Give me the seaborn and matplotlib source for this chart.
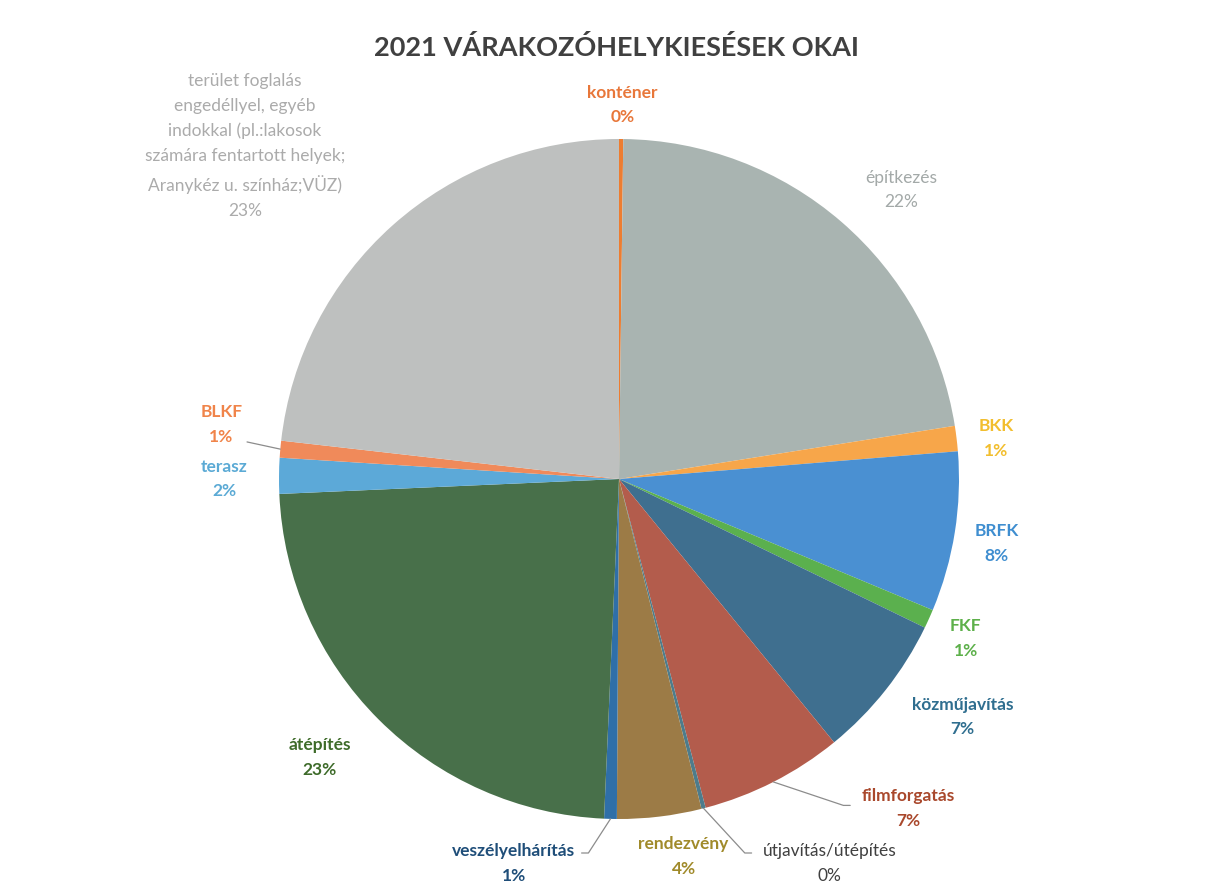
import matplotlib
matplotlib.use("Agg")
import matplotlib.pyplot as plt
import seaborn as sns
import numpy as np

categories = ["konténer", "építkezés", "BKK", "BRFK", "FKF", "közműjavítás",
              "filmforgatás", "útjavítás/útépítés", "rendezvény", "veszélyelhárítás",
              "átépítés", "terasz", "BLKF",
              "terület foglalás\nengedéllyel, egyéb\nindokkal (pl.:lakosok\nszámára fentartott helyek;\nAranykéz u. színház;VÜZ)"]
values = [0.2, 22.3, 1.2, 7.6, 0.9, 6.9, 6.8, 0.2, 4.0, 0.6, 23.6, 1.7, 0.8, 23.2]
percent_labels = ["0%", "22%", "1%", "8%", "1%", "7%", "7%", "0%", "4%", "1%", "23%", "2%", "1%", "23%"]

slice_colors = ["#ED7D31", "#A9B4B1", "#F7A64A", "#4A90D2", "#5BB04E", "#3F6F8F",
                "#B35C4C", "#4D7C8C", "#9C7B46", "#2F6FA8", "#48704A", "#5CA9D8",
                "#F08A5A", "#BEC0BF"]
text_colors = ["#E8773A", "#A3A9A8", "#F2BE2E", "#3F8ED0", "#5DB04A", "#2F6E8F",
               "#A9482C", "#404040", "#A08A2A", "#1F4E79", "#3E6B2A", "#5BAAD5",
               "#F0844A", "#ABABAB"]
bold = [True, False, True, True, True, True, True, False, True, True, True, True, True, False]

# label anchor offsets (in pie-radius units)
label_pos = [(0.01, 1.10), (0.83, 0.85), (1.11, 0.12), (1.11, -0.19), (1.02, -0.47),
             (1.01, -0.70), (0.85, -0.97), (0.62, -1.13), (0.19, -1.11), (-0.31, -1.13),
             (-0.88, -0.82), (-1.16, 0.0), (-1.17, 0.16), (-1.10, 0.98)]

sns.set_theme(style="white")
plt.rcParams['font.family'] = ['Lato', 'DejaVu Sans']

W, H = 1218, 882
cx, cy, R = 619, 479, 340
fig = plt.figure(figsize=(W / 100, H / 100), dpi=100)
ax = fig.add_axes([0, 0, 1, 1])

wedges, _ = ax.pie(values, colors=slice_colors, startangle=90, counterclock=False,
                   radius=1.0, center=(0, 0), frame=True,
                   wedgeprops=dict(linewidth=0))
ax.set_xlim(-cx / R, (W - cx) / R)
ax.set_ylim((cy - H) / R, cy / R)
ax.axis("off")

for i, (cat, pct) in enumerate(zip(categories, percent_labels)):
    x, y = label_pos[i]
    ax.text(x, y, f"{cat}\n{pct}", ha="center", va="center", fontsize=12.5,
            color=text_colors[i], fontweight="bold" if bold[i] else "normal",
            linespacing=1.68)

# leader lines for small/outer labels
def mid_point(idx):
    total = sum(values)
    start = 90 - 360 * sum(values[:idx]) / total
    ang = np.deg2rad(start - 360 * values[idx] / total / 2)
    return np.cos(ang), np.sin(ang)

leaders = {
    12: [(-1.094, 0.109)],
    6: [(0.68, -0.96), (0.66, -0.96)],
    7: [(0.39, -1.10), (0.37, -1.10)],
    9: [(-0.11, -1.10), (-0.09, -1.10)],
}
for idx, pts in leaders.items():
    mx, my = mid_point(idx)
    xs = [p[0] for p in pts] + [mx]
    ys = [p[1] for p in pts] + [my]
    ax.plot(xs, ys, color="#8c8c8c", lw=0.9)

fig.text(617 / W, 1 - 47 / H, "2021 VÁRAKOZÓHELYKIESÉSEK OKAI", ha="center", va="center",
         fontsize=19.5, fontweight="bold", color="#404040")

fig.savefig("out.png", dpi=100, facecolor="white")
